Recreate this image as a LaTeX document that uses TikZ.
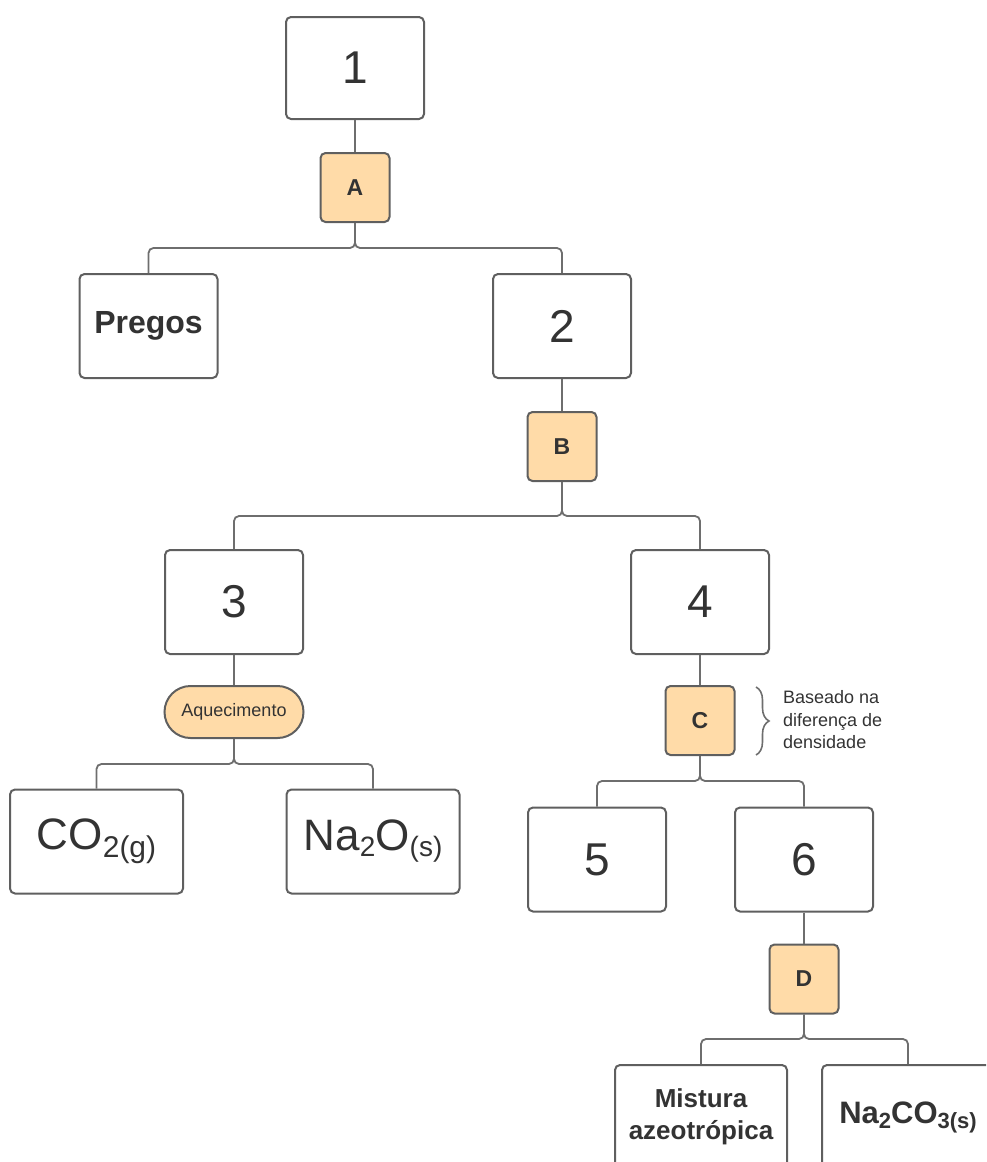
\documentclass[tikz,border=0pt]{standalone}
\usepackage{fontspec}
\setmainfont{Liberation Sans}
\usetikzlibrary{decorations.pathreplacing}
\definecolor{boxline}{HTML}{5F5F5F}
\definecolor{txt}{HTML}{333333}
\definecolor{orfill}{HTML}{FFDBA8}
\definecolor{connc}{HTML}{6E6E6E}
\begin{document}
\begin{tikzpicture}[x=1pt,y=-1pt,
  box/.style={draw=boxline, line width=2pt, rounded corners=5pt, fill=white,
    minimum width=138pt, minimum height=104pt, inner sep=0pt, text=txt, align=center},
  widebox/.style={box, minimum width=173pt},
  numtxt/.style={font=\fontsize{46}{55}\selectfont},
  stepbox/.style={draw=boxline, line width=2pt, rounded corners=5pt, fill=orfill,
    minimum width=69pt, minimum height=69pt, inner sep=0pt, text=txt,
    font=\bfseries\fontsize{23}{27}\selectfont},
  pill/.style={draw=boxline, line width=2pt, rounded corners=26pt, fill=orfill,
    minimum width=139pt, minimum height=52pt, inner sep=0pt, text=txt,
    font=\fontsize{18}{22}\selectfont},
  link/.style={draw=connc, line width=1.8pt, rounded corners=5pt},
  note/.style={text=txt, align=left, anchor=west, inner sep=0pt,
    font=\fontsize{18}{22.5}\selectfont}
]
\useasboundingbox (0,0) rectangle (986,1162);
\clip (0,0) rectangle (986,1162);

% nodes
\node[box, numtxt, minimum height=102pt] (n1) at (355,68) {1};
\node[stepbox] (A) at (355,187.5) {A};
\node[box, font=\bfseries\fontsize{32}{38}\selectfont] (pregos) at (148.5,326) {Pregos};
\node[box, numtxt] (n2) at (562,326) {2};
\node[stepbox] (B) at (562,446.5) {B};
\node[box, numtxt] (n3) at (234,602) {3};
\node[box, numtxt] (n4) at (700,602) {4};
\node[pill] (aq) at (234,712) {Aquecimento};
\node[widebox, font=\fontsize{44}{52}\selectfont] (co2) at (96.5,841.5)
  {CO\raisebox{-8pt}{\fontsize{30}{30}\selectfont 2(g)}};
\node[widebox, font=\fontsize{44}{52}\selectfont] (na2o) at (373,841.5)
  {Na\raisebox{-6pt}{\fontsize{28}{28}\selectfont 2}O\raisebox{-6pt}{\fontsize{28}{28}\selectfont (s)}};
\node[stepbox] (C) at (700,720.5) {C};
\node[box, numtxt] (n5) at (597,859.5) {5};
\node[box, numtxt] (n6) at (804,859.5) {6};
\node[stepbox] (D) at (804,979) {D};
\node[widebox, minimum width=172pt, font=\bfseries\fontsize{26}{32}\selectfont] (mist) at (701,1117)
  {Mistura\\azeotrópica};
\node[widebox, minimum width=172pt, font=\bfseries\fontsize{31}{36}\selectfont] (na2co3) at (908,1117)
  {Na\raisebox{-5pt}{\fontsize{22}{22}\selectfont 2}CO\raisebox{-5pt}{\fontsize{22}{22}\selectfont 3(s)}};

% brace note
\coordinate (bt) at (756,687);
\coordinate (bb) at (756,755);
\draw[connc, line width=1.6pt, decorate, decoration={brace, amplitude=13pt}] (bt) -- (bb);
\node[note] (noteC) at (783,720) {Baseado na\\diferença de\\densidade};

% junctions
\coordinate (jA) at (355,248);
\coordinate (jB) at (562,516);
\coordinate (jAq) at (234,764);
\coordinate (jC) at (700,781);
\coordinate (jD) at (804,1039);

% connectors
\draw[link] (n1.south) -- (A.north);
\draw[link] (A.south) -- (jA) -| (pregos.north);
\draw[link] (A.south) -- (jA) -| (n2.north);
\draw[link] (n2.south) -- (B.north);
\draw[link] (B.south) -- (jB) -| (n3.north);
\draw[link] (B.south) -- (jB) -| (n4.north);
\draw[link] (n3.south) -- (aq.north);
\draw[link] (aq.south) -- (jAq) -| (co2.north);
\draw[link] (aq.south) -- (jAq) -| (na2o.north);
\draw[link] (n4.south) -- (C.north);
\draw[link] (C.south) -- (jC) -| (n5.north);
\draw[link] (C.south) -- (jC) -| (n6.north);
\draw[link] (n6.south) -- (D.north);
\draw[link] (D.south) -- (jD) -| (mist.north);
\draw[link] (D.south) -- (jD) -| (na2co3.north);
\end{tikzpicture}
\end{document}
